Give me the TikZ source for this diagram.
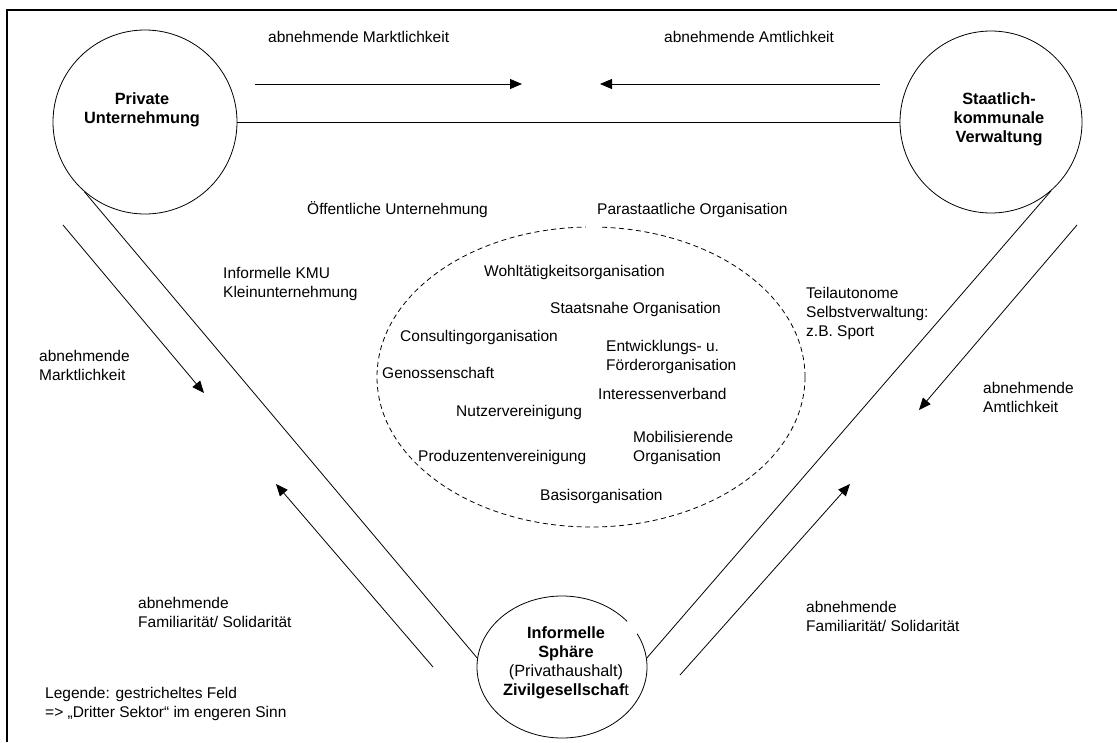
\documentclass[tikz,border=0pt]{standalone}
\usepackage{fontspec}
\setmainfont{Liberation Sans}
\usetikzlibrary{arrows.meta,shapes.geometric}
\begin{document}
\begin{tikzpicture}[x=1pt,y=-1pt,
  txt/.style={inner sep=0pt, align=left, anchor=west, font=\fontsize{15.5}{19}\selectfont},
  ctr/.style={inner sep=0pt, align=center, font=\fontsize{16.3}{19}\selectfont\bfseries},
  conn/.style={line width=0.8pt},
  arr/.style={line width=0.8pt, -{Triangle[length=12pt,width=10pt]}},
  circ/.style={draw, circle, line width=0.8pt, inner sep=0pt},
  frame/.style={line width=2pt}]
\useasboundingbox (0,0) rectangle (1117,742);
% frame
\coordinate (fbl) at (7,742);
\coordinate (ftl) at (7,10);
\coordinate (ftr) at (1117,10);
\draw[frame] (fbl) -- (ftl) -- (ftr);

% circles
\node[circ, minimum size=184pt] (pu) at (145,122) {};
\node[circ, minimum size=182pt] (sk) at (991,122) {};
\node[draw, ellipse, line width=0.8pt, inner sep=0pt, minimum width=170pt, minimum height=142pt] (is) at (562,667) {};
\draw[white, line width=4pt] (is.24) -- (is.35);

% dashed field
\node[draw, ellipse, line width=0.8pt, dash pattern=on 5pt off 3.5pt, inner sep=0pt, minimum width=428pt, minimum height=300pt] (ds) at (591,377) {};
\draw[white, line width=4pt] (ds.92) -- (ds.86);

% connectors
\draw[conn] (pu.east) -- (sk.west);
\draw[conn] (pu.229) -- (is.174);
\draw[conn] (sk.-49) -- (is.6);

% arrows
\coordinate (a1s) at (255,84);  \coordinate (a1e) at (522,84);
\coordinate (a2s) at (880,84);  \coordinate (a2e) at (600,84);
\coordinate (a3s) at (63,225);  \coordinate (a3e) at (204,393);
\coordinate (a4s) at (433,667); \coordinate (a4e) at (276,484);
\coordinate (a5s) at (1077,225);\coordinate (a5e) at (919,410);
\coordinate (a6s) at (680,675); \coordinate (a6e) at (850,484);
\draw[arr] (a1s) -- (a1e);
\draw[arr] (a2s) -- (a2e);
\draw[arr] (a3s) -- (a3e);
\draw[arr] (a4s) -- (a4e);
\draw[arr] (a5s) -- (a5e);
\draw[arr] (a6s) -- (a6e);

% circle texts
\node[ctr] (tpu) at (142,110) {Private\\Unternehmung};
\node[ctr] (tsk) at (999,119) {Staatlich-\\kommunale\\Verwaltung};
\node[ctr] (tis) at (566,663) {Informelle\\Sphäre\\{\mdseries(Privathaushalt)}\\Zivilgesellschaf{\mdseries t}};

% labels
\node[txt] (l1) at (268,37) {abnehmende Marktlichkeit};
\node[txt] (l2) at (664,37) {abnehmende Amtlichkeit};
\node[txt] (l3) at (39,365.5) {abnehmende\\Marktlichkeit};
\node[txt] (l4) at (983,397.5) {abnehmende\\Amtlichkeit};
\node[txt] (l5) at (138,612.5) {abnehmende\\Familiarität/ Solidarität};
\node[txt] (l6) at (806,616.5) {abnehmende\\Familiarität/ Solidarität};
\node[txt] (l7) at (45,704) {Legende: gestricheltes Feld\\=> „Dritter Sektor“ im engeren Sinn};

\node[txt] (oef) at (307,210) {Öffentliche Unternehmung};
\node[txt] (para) at (597,210) {Parastaatliche Organisation};
\node[txt] (kmu) at (223,283.5) {Informelle KMU\\Kleinunternehmung};
\node[txt] (teil) at (806,313.5) {Teilautonome\\Selbstverwaltung:\\z.B. Sport};

\node[txt] (wohl) at (484,272) {Wohltätigkeitsorganisation};
\node[txt] (snah) at (550,309) {Staatsnahe Organisation};
\node[txt] (cons) at (400,337) {Consultingorganisation};
\node[txt] (entw) at (606,357) {Entwicklungs- u.\\Förderorganisation};
\node[txt] (geno) at (382,373) {Genossenschaft};
\node[txt] (inte) at (598,394) {Interessenverband};
\node[txt] (nutz) at (456,412) {Nutzervereinigung};
\node[txt] (mobi) at (633,447.5) {Mobilisierende\\Organisation};
\node[txt] (prod) at (418,457) {Produzentenvereinigung};
\node[txt] (basi) at (540,496) {Basisorganisation};
\end{tikzpicture}
\end{document}
